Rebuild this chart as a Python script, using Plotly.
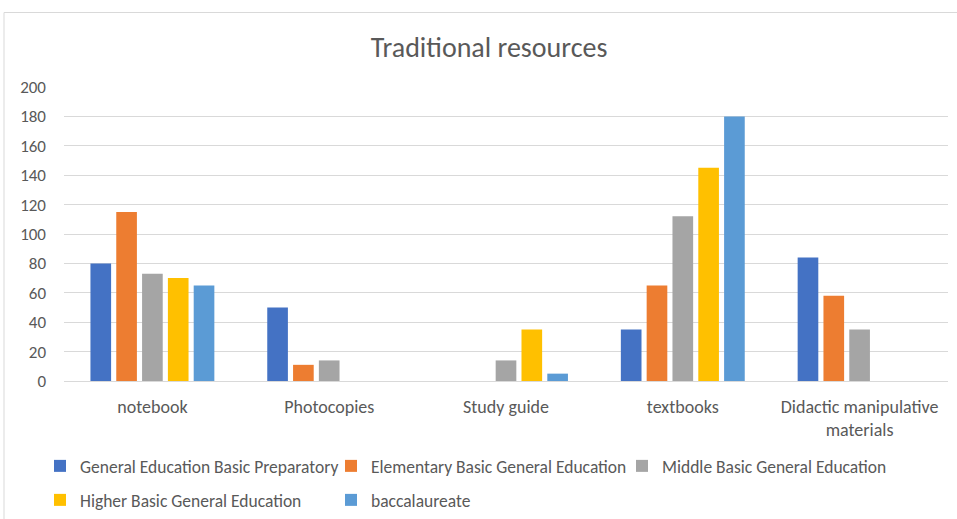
import plotly.graph_objects as go

categories = ["notebook", "Photocopies", "Study guide", "textbooks", "Didactic manipulative<br>materials"]
series_names = [
    "General Education Basic Preparatory",
    "Elementary Basic General Education",
    "Middle Basic General Education",
    "Higher Basic General Education",
    "baccalaureate",
]
prep = [80, 50, 0, 35, 84]
elementary = [115, 11, 0, 65, 58]
middle = [73, 14, 14, 112, 35]
higher = [70, 0, 35, 145, 0]
bacc = [65, 0, 5, 180, 0]
series_values = [prep, elementary, middle, higher, bacc]
colors = ["#4472C4", "#ED7D31", "#A5A5A5", "#FFC000", "#5B9BD5"]
legend_ids = ["legend", "legend", "legend", "legend2", "legend2"]
y_ticks = [0, 20, 40, 60, 80, 100, 120, 140, 160, 180, 200]

FONT = "Carlito, Lato, Open Sans, sans-serif"
TXT = "#595959"

fig = go.Figure()
for name, vals, col, lg in zip(series_names, series_values, colors, legend_ids):
    fig.add_trace(go.Bar(x=categories, y=vals, name=name, marker_color=col,
                         marker_line_width=0, legend=lg))

W, H = 957, 519
L, R, T, B = 64, 9, 87, 138
pw, ph = W - L - R, H - T - B

def px(x):
    return (x - L) / pw

def py(y):
    return (H - B - y) / ph

leg_common = dict(orientation="h", xanchor="left", yanchor="middle",
                  entrywidth=246, entrywidthmode="pixels", traceorder="normal",
                  font=dict(family=FONT, size=17.5, color=TXT), bgcolor="rgba(0,0,0,0)")

fig.update_layout(
    width=W, height=H,
    margin=dict(l=L, r=R, t=T, b=B, autoexpand=False),
    paper_bgcolor="white", plot_bgcolor="white",
    barmode="group", bargap=0.27, bargroupgap=0.2,
    font=dict(family=FONT, color=TXT, size=17),
    title=dict(text="Traditional resources", x=489 / W, xanchor="center",
               y=1 - 47 / H, yanchor="middle",
               font=dict(family=FONT, size=28, color=TXT)),
    legend=dict(x=px(40), y=py(466), **leg_common),
    legend2=dict(x=px(40), y=py(500), **leg_common),
    showlegend=True,
)
fig.update_yaxes(range=[0, 200], tickvals=y_ticks, showgrid=True, gridcolor="#D9D9D9",
                 gridwidth=1, zeroline=False, showline=False, ticks="",
                 ticklabelstandoff=17, tickfont=dict(size=17, color=TXT))
fig.update_xaxes(showgrid=False, showline=True, linecolor="#D9D9D9", linewidth=1,
                 ticks="", ticklabelstandoff=9, tickfont=dict(size=18, color=TXT))

fig.add_shape(type="rect", xref="paper", yref="paper",
              x0=px(4), x1=px(W + 5), y0=py(H + 5), y1=py(12.5),
              line=dict(color="#D9D9D9", width=1), fillcolor="rgba(0,0,0,0)", layer="below")

fig.write_html("out.html")
